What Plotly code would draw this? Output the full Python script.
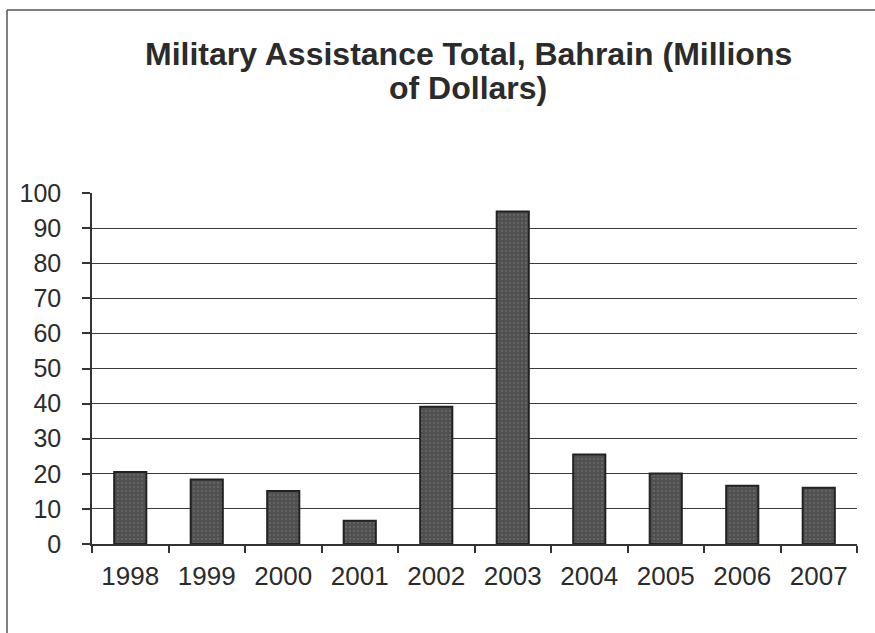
import plotly.graph_objects as go

# Military assistance to Bahrain, millions of US dollars
years = ["1998", "1999", "2000", "2001", "2002", "2003", "2004", "2005", "2006", "2007"]
totals = [20.5, 18.4, 15.1, 6.6, 39.1, 94.7, 25.5, 20.1, 16.6, 16.0]
y_ticks = [0, 10, 20, 30, 40, 50, 60, 70, 80, 90, 100]

title_lines = ["Military Assistance Total, Bahrain (Millions", "of Dollars)"]

W, H = 875, 633
L, R, T, B = 92, 18, 193, 89
PW, PH = W - L - R, H - T - B


def px_x(px):
    """Pixel column -> paper x."""
    return (px - L) / PW


def px_y(py):
    """Pixel row -> paper y."""
    return 1 + (T - py) / PH


fig = go.Figure(
    go.Bar(
        x=years,
        y=totals,
        width=0.42,
        marker=dict(
            color="#4f4f4f",
            line=dict(color="#222222", width=2),
            pattern=dict(shape=".", fgcolor="#7a7a7a", size=4, solidity=0.25),
        ),
        hoverinfo="x+y",
    )
)

label_family = "Liberation Sans, Arial, sans-serif"

fig.update_layout(
    width=W,
    height=H,
    margin=dict(l=L, r=R, t=T, b=B, pad=0),
    paper_bgcolor="white",
    plot_bgcolor="white",
    showlegend=False,
    xaxis=dict(
        type="category",
        tickson="boundaries",
        ticks="outside",
        ticklen=7,
        tickwidth=1.5,
        tickcolor="#333333",
        showline=True,
        linecolor="#333333",
        linewidth=1.5,
        showgrid=False,
        tickfont=dict(family=label_family, size=26, color="#2b2b2b"),
        ticklabelstandoff=8,
    ),
    yaxis=dict(
        range=[0, 100],
        tickvals=y_ticks,
        ticks="outside",
        ticklen=8,
        tickwidth=1.5,
        tickcolor="#333333",
        showline=True,
        linecolor="#333333",
        linewidth=1.5,
        showgrid=True,
        gridcolor="#3a3a3a",
        gridwidth=1.3,
        zeroline=False,
        tickfont=dict(family=label_family, size=25, color="#2b2b2b"),
        ticklabelstandoff=16,
    ),
    annotations=[
        dict(
            text="<b>" + line + "</b>",
            xref="paper",
            yref="paper",
            x=px_x(468),
            y=px_y(cy),
            xanchor="center",
            yanchor="middle",
            showarrow=False,
            font=dict(family=label_family, size=32, color="#2b2b2b"),
        )
        for line, cy in zip(title_lines, [54, 88])
    ],
    shapes=[
        # outer chart frame: top and left edges
        dict(type="line", xref="paper", yref="paper",
             x0=px_x(7), x1=px_x(W), y0=px_y(10), y1=px_y(10),
             line=dict(color="#555555", width=1.5)),
        dict(type="line", xref="paper", yref="paper",
             x0=px_x(7), x1=px_x(7), y0=px_y(10), y1=px_y(H),
             line=dict(color="#555555", width=1.5)),
    ],
)

fig.write_html("out.html")
